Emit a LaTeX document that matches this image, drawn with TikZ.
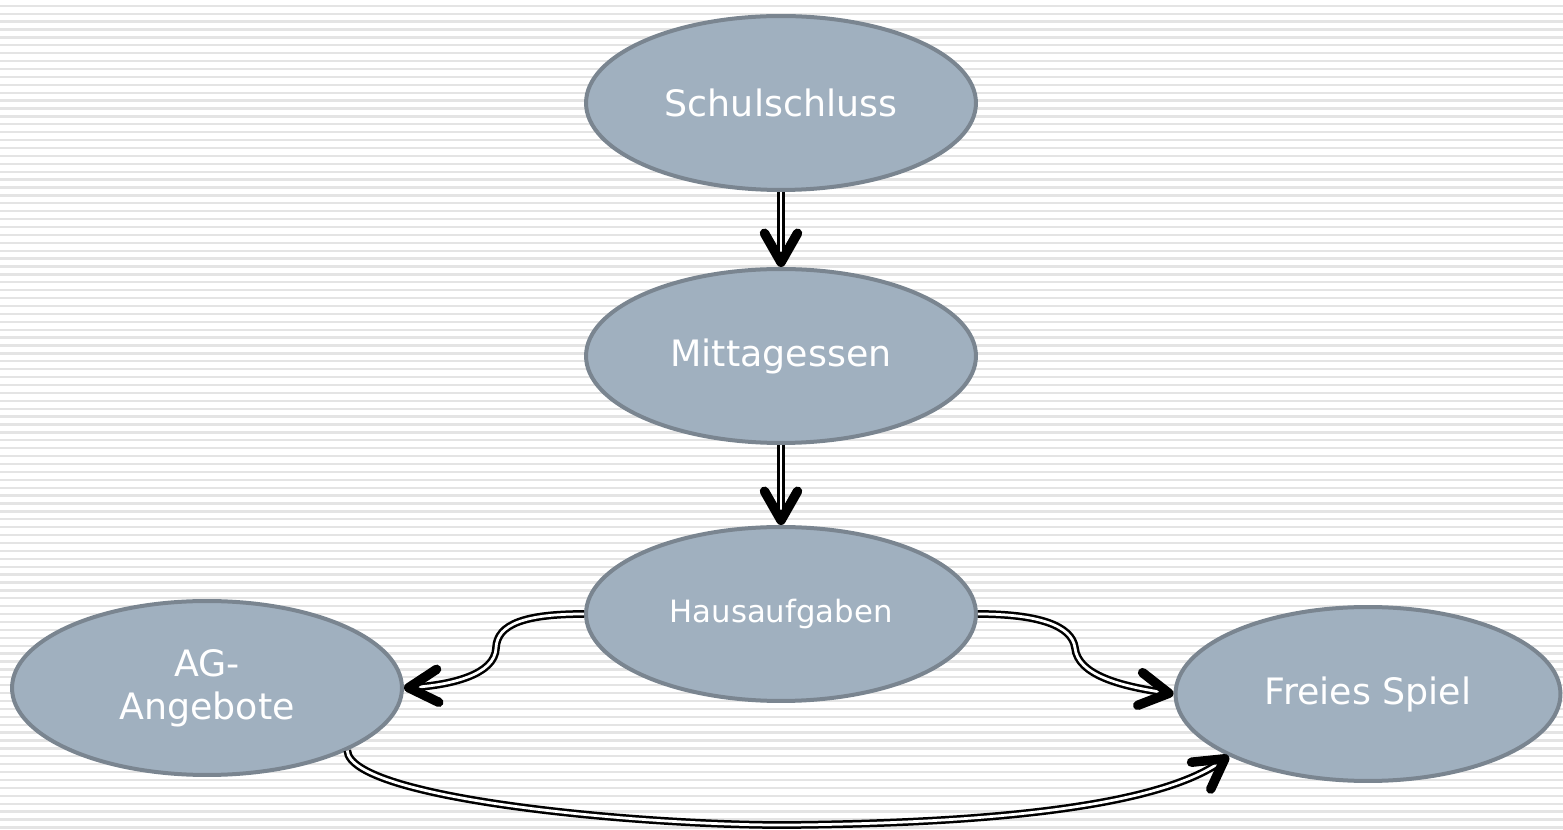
\documentclass[tikz,border=0pt]{standalone}
\usepackage{fontspec}
\setmainfont{DejaVu Sans}
\usetikzlibrary{arrows.meta,shapes.geometric,calc}

\definecolor{fillBlue}{HTML}{A0B0BF}
\definecolor{borderGray}{HTML}{7A8590}
\definecolor{stripeGray}{HTML}{E4E4E4}

\tikzset{
	stat/.style={ellipse, draw=borderGray, fill=fillBlue, line width=0.08cm,
		minimum width=7.8cm, minimum height=3.48cm, inner sep=0pt,
		text=white, font=\fontsize{20.7}{24.5}\selectfont, align=center},
	flow/.style={draw=black, line width=0.05cm, double=white, double distance=0.055cm,
		-{Straight Barb[length=0.58cm,width=0.66cm,line width=0.19cm,round]}},
	stripe/.style={draw=stripeGray, line width=0.045cm}
}

\begin{document}
\begin{tikzpicture}[x=0.02cm, y=-0.02cm]
		\useasboundingbox (0,0) rectangle (1563,830);
		% gestreifter Hintergrund
		\foreach \k in {0,...,104}
			\draw[stripe] (0,{5.8+7.9*\k}) -- (1563,{5.8+7.9*\k});
		\node[stat] (schule) at (781,103) {Schulschluss};
		\node[stat] (mittag) at (781,356) {Mittagessen};
		\node[stat, font=\fontsize{17.5}{21}\selectfont] (haus) at (781,614) {Hausaufgaben};
		\node[stat] (ag) at (207,688) {AG-\\Angebote};
		\node[stat, minimum width=7.7cm] (spiel) at (1368,694) {Freies Spiel};
		\draw[flow] (schule.south) -- (mittag.north);
		\draw[flow] (mittag.south) -- (haus.north);
		\draw[flow] (haus.west) .. controls (525,614) and (497,624) .. (496,648)
			.. controls (495,675) and (450,685) .. (ag.east);
		\draw[flow] (haus.east) .. controls (1037,614) and (1072,625) .. (1075,648)
			.. controls (1078,675) and (1120,686) .. (spiel.west);
		\draw[flow] (ag.-24.6) .. controls (350,800) and (650,826) .. (790,825)
			.. controls (1000,823) and (1160,805) .. (spiel.204.5);
	\end{tikzpicture}
\end{document}
